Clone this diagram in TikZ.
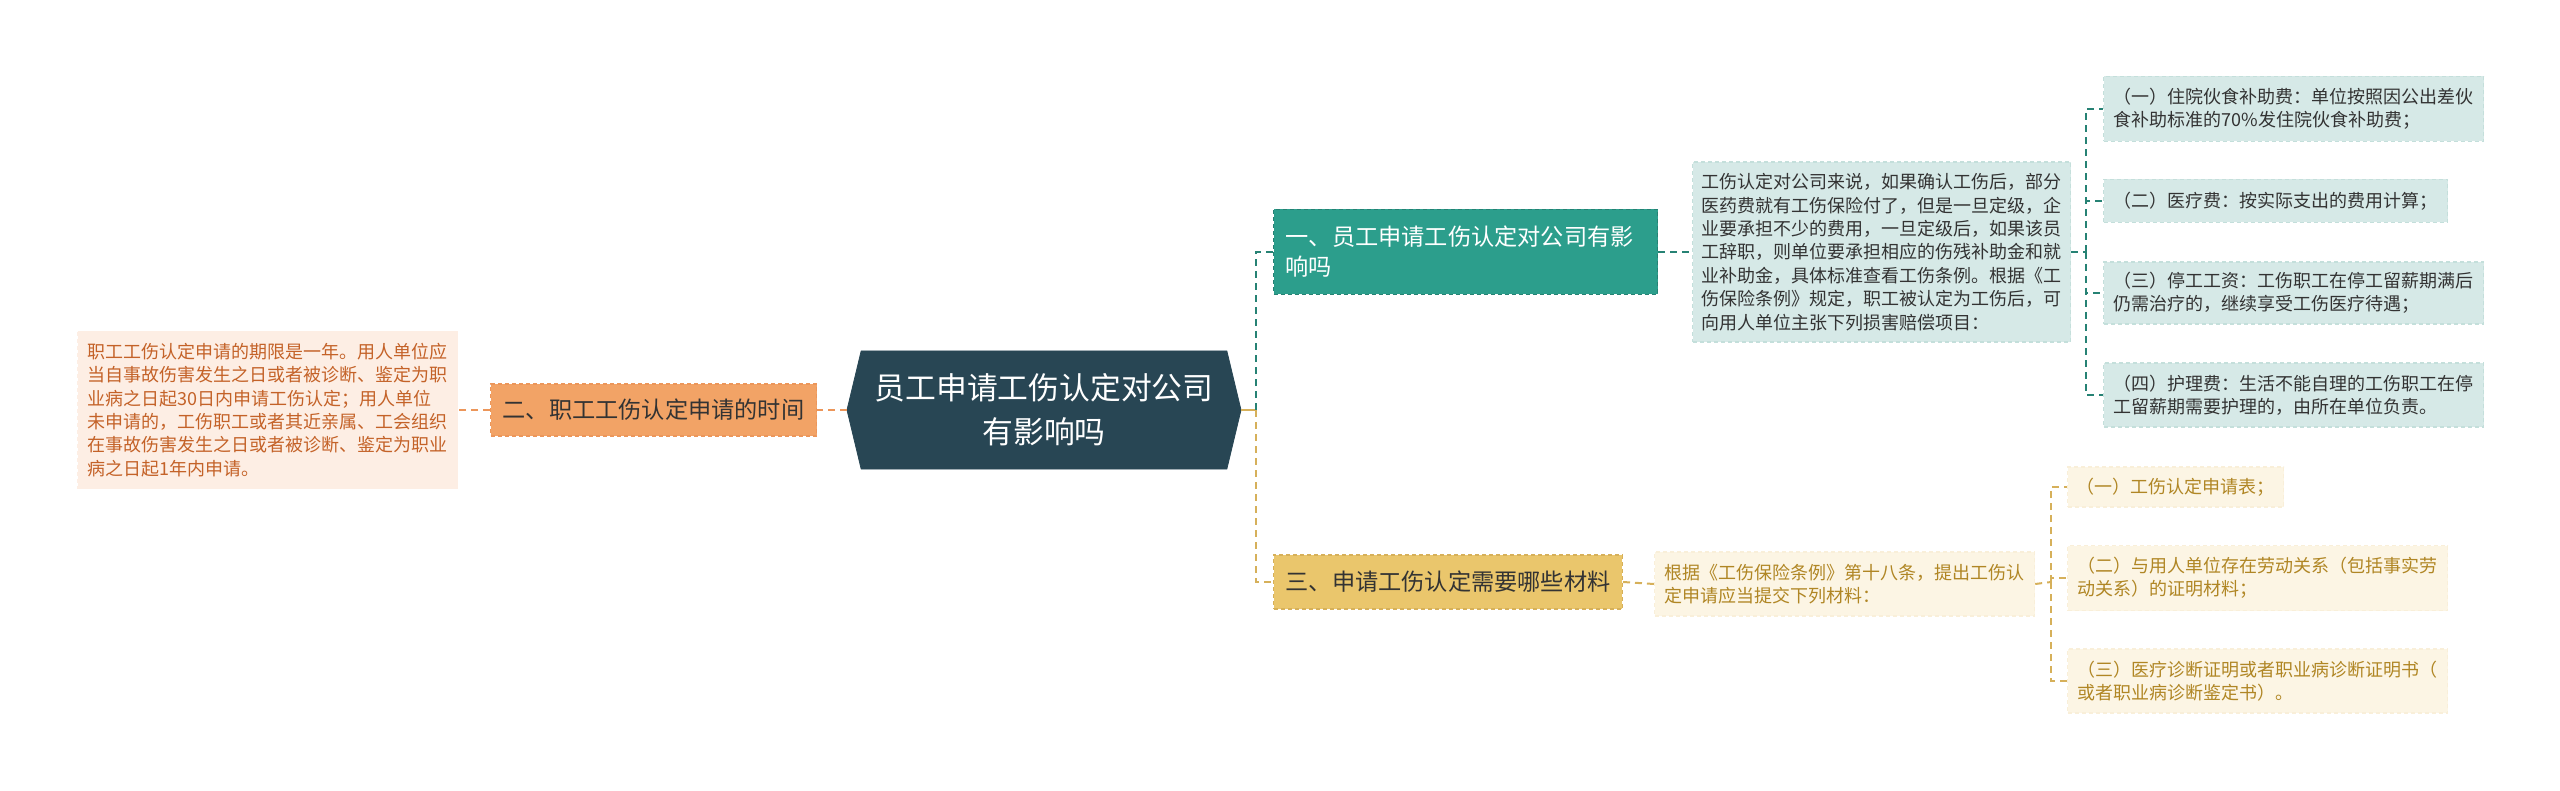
\documentclass[tikz,border=0pt]{standalone}
\usepackage{fontspec}
\setmainfont{Noto Sans CJK SC}
\usetikzlibrary{shapes.symbols}

\definecolor{rootfill}{RGB}{40,70,84}
\definecolor{orangefill}{RGB}{242,163,102}
\definecolor{orangeline}{RGB}{236,150,90}
\definecolor{peachfill}{RGB}{253,238,228}
\definecolor{peachtext}{RGB}{196,98,40}
\definecolor{tealfill}{RGB}{44,158,140}
\definecolor{tealline}{RGB}{38,130,116}
\definecolor{mintfill}{RGB}{214,233,231}
\definecolor{goldfill}{RGB}{234,198,108}
\definecolor{goldline}{RGB}{214,176,90}
\definecolor{creamfill}{RGB}{252,245,228}
\definecolor{goldtext}{RGB}{176,134,36}
\definecolor{darktext}{RGB}{51,51,51}

\begin{document}
\begin{tikzpicture}[x=0.5pt, y=-0.5pt,
  box/.style={rectangle, anchor=west, align=left, dash pattern=on 2pt off 1.5pt, line width=0.6pt},
  branch/.style={box, font=\fontsize{11.6}{15}\selectfont, inner xsep=6pt},
  leaf/.style={box, font=\fontsize{9}{11.7}\selectfont, inner xsep=5pt},
  link/.style={line width=1pt, dash pattern=on 3.5pt off 2.5pt},
  root/.style={signal, signal to=east and west, signal pointer angle=153, fill=rootfill, draw=rootfill,
    text=white, align=center, minimum width=197pt, minimum height=59pt, font=\fontsize{15.4}{22}\selectfont}]
\useasboundingbox (0,0) rectangle (2560,791);

\node[root] (root) at (1044,410) {员工申请工伤认定对公司\\有影响吗};

% left side
\node[branch, fill=orangefill, draw=orangeline, text=darktext, text width=151pt, minimum height=26pt] (time) at (490,410) {二、职工工伤认定申请的时间};
\node[leaf, fill=peachfill, draw=peachfill, text=peachtext, text width=180pt, minimum height=78.5pt] (timetxt) at (77,410)
  {职工工伤认定申请的期限是一年。用人单位应\\当自事故伤害发生之日或者被诊断、鉴定为职\\业病之日起30日内申请工伤认定；用人单位\\未申请的，工伤职工或者其近亲属、工会组织\\在事故伤害发生之日或者被诊断、鉴定为职业\\病之日起1年内申请。};

% upper right
\node[branch, fill=tealfill, draw=tealline, text=white, text width=180pt, minimum height=42.5pt] (effect) at (1273,252) {一、员工申请工伤认定对公司有影\\响吗};
\node[leaf, fill=mintfill, draw=mintfill!90!tealline, text=darktext, text width=180pt, inner xsep=4.5pt, minimum height=90pt] (effecttxt) at (1692,252)
  {工伤认定对公司来说，如果确认工伤后，部分\\医药费就有工伤保险付了，但是一旦定级，企\\业要承担不少的费用，一旦定级后，如果该员\\工辞职，则单位要承担相应的伤残补助金和就\\业补助金，具体标准查看工伤条例。根据《工\\伤保险条例》规定，职工被认定为工伤后，可\\向用人单位主张下列损害赔偿项目：};
\node[leaf, fill=mintfill, draw=mintfill!90!tealline, text=darktext, text width=180pt, minimum height=32.5pt] (pay1) at (2103,109) {（一）住院伙食补助费：单位按照因公出差伙\\食补助标准的70\%发住院伙食补助费；};
\node[leaf, fill=mintfill, draw=mintfill!90!tealline, text=darktext, text width=162pt, minimum height=21.5pt] (pay2) at (2103,201) {（二）医疗费：按实际支出的费用计算；};
\node[leaf, fill=mintfill, draw=mintfill!90!tealline, text=darktext, text width=180pt, minimum height=31pt] (pay3) at (2103,293) {（三）停工工资：工伤职工在停工留薪期满后\\仍需治疗的，继续享受工伤医疗待遇；};
\node[leaf, fill=mintfill, draw=mintfill!90!tealline, text=darktext, text width=180pt, minimum height=32pt] (pay4) at (2103,395) {（四）护理费：生活不能自理的工伤职工在停\\工留薪期需要护理的，由所在单位负责。};

% lower right
\node[branch, fill=goldfill, draw=goldline, text=darktext, text width=162.4pt, minimum height=27pt] (mat) at (1273,582) {三、申请工伤认定需要哪些材料};
\node[leaf, fill=creamfill, draw=creamfill!92!goldline, text=goldtext, text width=180pt, minimum height=32pt] (mattxt) at (1654,584)
  {根据《工伤保险条例》第十八条，提出工伤认\\定申请应当提交下列材料：};
\node[leaf, fill=creamfill, draw=creamfill!92!goldline, text=goldtext, text width=99pt, inner xsep=4.5pt, minimum height=20pt] (doc1) at (2067,487) {（一）工伤认定申请表；};
\node[leaf, fill=creamfill, draw=creamfill!92!goldline, text=goldtext, text width=180pt, minimum height=32.5pt] (doc2) at (2067,578) {（二）与用人单位存在劳动关系（包括事实劳\\动关系）的证明材料；};
\node[leaf, fill=creamfill, draw=creamfill!92!goldline, text=goldtext, text width=180pt, minimum height=32pt] (doc3) at (2067,681) {（三）医疗诊断证明或者职业病诊断证明书（\\或者职业病诊断鉴定书）。};

% connectors
\coordinate (trunk) at (1256,410);
\coordinate (tfork) at (2086,252);
\coordinate (gfork) at (2051,582);
\draw[link, orangeline] (root.west) -- (time.east);
\draw[link, orangeline] (time.west) -- (timetxt.east);
\draw[line width=1pt, goldline] (root.east) -- (trunk);
\draw[link, tealline] (trunk) |- (effect.west);
\draw[link, goldline] (trunk) |- (mat.west);
\draw[link, tealline] (effect.east) -- (effecttxt.west);
\draw[link, tealline] (effecttxt.east) -- (tfork);
\foreach \n in {pay1,pay2,pay3,pay4}
  \draw[link, tealline] (tfork) |- (\n.west);
\draw[link, goldline] (mat.east) -- (mattxt.west);
\draw[link, goldline] (mattxt.east) -- (gfork);
\foreach \n in {doc1,doc2,doc3}
  \draw[link, goldline] (gfork) |- (\n.west);
\end{tikzpicture}
\end{document}
